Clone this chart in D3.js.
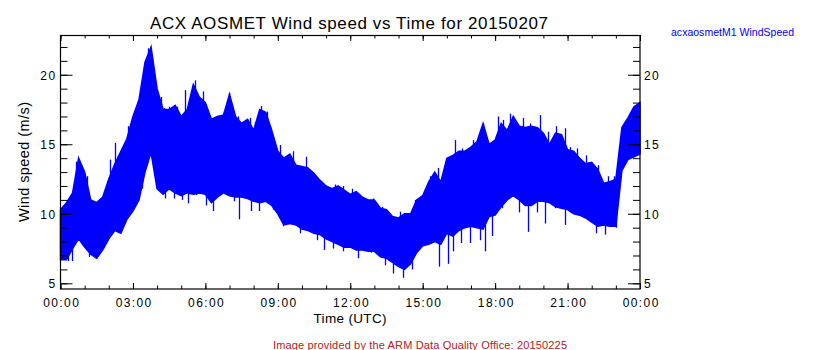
<!DOCTYPE html>
<html><head><meta charset="utf-8">
<script src="https://cdn.jsdelivr.net/npm/d3@7"></script>
<style>
body{margin:0;background:#fff}
svg{display:block}
text{font-family:"Liberation Sans",Arial,Helvetica,sans-serif}
</style>
</head><body>
<svg id="c" width="840" height="350"></svg>
<script>
// ---- data ----
const binHours = 0.25; // envelope sampled every 15 minutes, starting at 00:00
const windHi = [10.3,10.8,11.5,14.0,13.0,11.0,10.8,11.2,12.5,13.6,14.5,15.4,
  17.0,18.2,20.9,22.0,19.0,17.5,17.5,17.8,17.0,17.5,19.3,18.4,
  18.0,16.8,17.0,17.1,18.6,17.0,16.5,16.8,16.0,17.5,17.3,16.0,
  14.5,14.0,14.3,13.5,13.4,13.3,12.9,12.4,12.0,11.8,12.0,11.7,
  11.4,11.6,11.2,11.0,11.0,10.4,10.3,9.8,9.7,10.0,10.0,11.0,
  11.3,12.3,13.0,12.3,14.0,14.2,14.5,14.5,14.8,15.2,16.5,15.0,
  15.3,16.5,16.0,17.0,16.3,16.2,16.3,16.2,15.8,15.0,15.8,15.7,
  14.6,14.5,14.0,13.6,13.7,13.2,12.2,12.3,12.5,16.2,16.9,17.7,18.0];
const windLo = [6.7,6.7,7.5,8.2,7.6,7.1,6.8,7.4,8.2,8.8,8.6,9.6,
  10.2,11.0,13.0,14.4,11.8,11.4,11.8,11.5,11.3,11.5,11.4,11.5,
  11.4,10.8,11.2,11.5,11.3,11.2,11.2,11.1,10.9,10.8,10.9,10.6,
  10.0,9.2,9.3,9.2,8.9,8.8,8.6,8.5,8.2,8.0,7.8,7.6,
  7.6,7.4,7.4,7.3,7.3,6.9,6.8,6.5,6.2,6.0,6.4,7.2,
  7.7,7.8,8.0,7.8,8.6,8.4,8.8,9.0,9.1,9.0,8.9,9.8,
  9.9,10.5,11.0,11.3,11.0,10.6,10.6,10.9,10.9,10.8,10.5,10.4,
  10.3,10.0,9.9,9.7,9.4,9.1,9.2,9.1,9.1,13.1,13.9,14.1,14.3];
// isolated gusts / lulls that stick out of the envelope
const spikeHiHours  = [0.43,0.63,0.74,1.09,1.68,2.03,2.26,2.4,2.72,2.81,3.09,3.19,3.55,3.62,3.8,4.18,4.3,4.5,4.66,4.81,5.16,5.43,5.55,5.89,
  5.95,6.15,6.44,6.61,6.81,6.99,7.09,7.37,7.57,7.85,8.06,8.3,8.54,8.68,9.09,9.64,10.17,10.47,10.81,11.37,11.71,
  12.06,12.3,12.95,13.3,13.64,14.06,14.3,14.7,15.3,15.64,16.03,16.33,16.64,17.09,17.23,17.5,17.78,
  18.12,18.33,18.63,18.88,19.16,19.46,19.85,20.19,20.54,20.88,21.09,21.39,21.78,22.26,22.68,22.91];
const spikeHiValues = [11.0,13.75,13.7,12.7,10.3,13.9,15.1,14.2,14.95,16.3,16.75,18.1,20.9,21.9,21.2,18.4,17.6,17.7,17.35,17.7,18.9,18.2,19.6,18.8,
  17.9,16.75,16.75,17.1,17.1,18.7,17.8,17.0,16.3,16.9,16.6,17.75,17.35,16.3,14.95,14.5,14.1,13.0,12.3,12.1,12.0,
  11.8,11.35,11.1,10.5,10.0,10.15,9.9,11.0,12.7,13.3,13.5,15.3,14.7,15.3,15.1,16.5,14.95,
  17.0,16.75,17.2,16.6,16.9,16.5,17.1,15.9,16.3,16.15,14.8,14.7,14.2,13.5,12.7,12.7];
const spikeLoHours  = [0.1,0.3,0.47,1.16,1.43,2.48,3.39,3.6,4.33,4.68,5.02,5.3,5.61,
  6.03,6.3,7.19,7.41,7.89,8.24,8.79,9.2,9.92,10.33,10.61,10.92,11.3,11.71,
  12.33,12.86,13.43,13.78,14.19,14.54,15.68,16.05,16.26,16.6,16.95,17.37,17.57,
  17.85,18.29,18.99,19.37,19.74,20.06,20.47,20.9,21.39,21.85,22.17,22.54,22.75,23.0];
const spikeLoValues = [6.7,6.6,6.6,6.9,6.8,8.7,11.8,13.9,11.1,11.1,11.0,10.75,11.35,
  10.6,10.2,10.9,9.6,10.2,10.2,10.3,9.1,8.6,8.7,8.1,7.4,7.5,7.3,
  6.8,7.2,6.3,5.7,5.4,6.0,6.2,6.4,7.3,7.9,7.9,8.1,7.3,
  8.4,10.4,10.1,8.7,10.1,9.3,10.4,9.2,10.3,9.7,8.6,8.5,9.1,9.0];
const xTickHours  = [0,3,6,9,12,15,18,21,24];
const xTickLabels = ["00:00","03:00","06:00","09:00","12:00","15:00","18:00","21:00","00:00"];
const xMinorHours = [0,1,2,3,4,5,6,7,8,9,10,11,12,13,14,15,16,17,18,19,20,21,22,23,24];
const yTicks = [5,10,15,20];
const yMinor = [5,6,7,8,9,10,11,12,13,14,15,16,17,18,19,20,21,22];

// ---- layout ----
const L = 60.5, R = 640, T = 35, B = 289;
const svg = d3.select("#c");
const x = d3.scaleLinear().domain([0,24]).range([L,R]);
const y = d3.scaleLinear().domain([4.59,22.86]).range([B,T]);

const bins = windHi.map((h,i)=>({t:Math.min(24, i*binHours), hi:h, lo:windLo[i]}));

const g = svg.append("g");
g.append("path").datum(bins)
  .attr("d", d3.area().x(d=>x(d.t)).y0(d=>y(d.lo)).y1(d=>y(d.hi)).curve(d3.curveLinear))
  .attr("fill","#0000ff").attr("stroke","#0000ff").attr("stroke-width",1.5);

// band centre at time t (used only as the foot of each spike)
const tArr = bins.map(b=>b.t), midArr = bins.map(b=>(b.hi+b.lo)/2);
const midAt = d3.scaleLinear().domain(tArr).range(midArr);

function spikes(hours, values){
  g.append("g").selectAll("line").data(hours).join("line")
    .attr("x1",d=>Math.round(x(d))+0.5).attr("x2",d=>Math.round(x(d))+0.5)
    .attr("y1",(d,i)=>y(values[i])).attr("y2",d=>y(midAt(d)))
    .attr("stroke","#0000ff").attr("stroke-width",1.3);
}
spikes(spikeHiHours, spikeHiValues);
spikes(spikeLoHours, spikeLoValues);

// ---- axes ----
function styleAxis(sel){
  sel.select(".domain").remove();
  sel.selectAll(".tick line").attr("stroke","#000").attr("stroke-width",1);
  sel.selectAll("text").attr("font-family",'"Liberation Sans",Arial,sans-serif').attr("font-size",12).attr("fill","#000").attr("letter-spacing","1.4px");
  return sel;
}
styleAxis(svg.append("g").attr("transform",`translate(0,${B})`)
  .call(d3.axisBottom(x).tickValues(xMinorHours).tickSize(-3.5).tickFormat("")));
const xbM = styleAxis(svg.append("g").attr("transform",`translate(0,${B})`)
  .call(d3.axisBottom(x).tickValues(xTickHours).tickSize(-6).tickFormat((d,i)=>xTickLabels[i])));
xbM.selectAll("text").attr("y",17.5).attr("dy",0).attr("dx",0.7);
styleAxis(svg.append("g").attr("transform",`translate(0,${T})`)
  .call(d3.axisTop(x).tickValues(xMinorHours).tickSize(-3.5).tickFormat("")));
styleAxis(svg.append("g").attr("transform",`translate(0,${T})`)
  .call(d3.axisTop(x).tickValues(xTickHours).tickSize(-6).tickFormat("")));
styleAxis(svg.append("g").attr("transform",`translate(${L},0)`)
  .call(d3.axisLeft(y).tickValues(yMinor).tickSize(-7).tickFormat("")));
const yl = styleAxis(svg.append("g").attr("transform",`translate(${L},0)`)
  .call(d3.axisLeft(y).tickValues(yTicks).tickSize(-12).tickFormat(d3.format("d"))));
yl.selectAll("text").attr("x",-4).attr("dy","0.36em");
styleAxis(svg.append("g").attr("transform",`translate(${R},0)`)
  .call(d3.axisRight(y).tickValues(yMinor).tickSize(-7).tickFormat("")));
const yr = styleAxis(svg.append("g").attr("transform",`translate(${R},0)`)
  .call(d3.axisRight(y).tickValues(yTicks).tickSize(-12).tickFormat(d3.format("d"))));
yr.selectAll("text").attr("x",4).attr("dy","0.36em");

svg.append("rect").attr("x",L).attr("y",T+0.5).attr("width",R-L).attr("height",B-T-0.5)
  .attr("fill","none").attr("stroke","#000").attr("stroke-width",1.2);

// ---- texts ----
svg.append("text").attr("x",349).attr("y",29).attr("text-anchor","middle")
  .attr("font-size",17).attr("textLength",398).attr("lengthAdjust","spacing")
  .text("ACX AOSMET Wind speed vs Time for 20150207");
svg.append("text").attr("x",350).attr("y",323.3).attr("text-anchor","middle")
  .attr("font-size",13.5).attr("textLength",73).attr("lengthAdjust","spacing")
  .text("Time (UTC)");
svg.append("text").attr("transform","translate(29,162) rotate(-90)").attr("text-anchor","middle")
  .attr("font-size",14.5).attr("textLength",120).attr("lengthAdjust","spacing")
  .text("Wind speed (m/s)");
svg.append("text").attr("x",671).attr("y",36).attr("fill","#0000ff")
  .attr("font-size",10.5).attr("textLength",123).attr("lengthAdjust","spacing")
  .text("acxaosmetM1 WindSpeed");
svg.append("text").attr("x",273).attr("y",348.5).attr("fill","#b22222")
  .attr("font-size",11).attr("textLength",294).attr("lengthAdjust","spacing")
  .text("Image provided by the ARM Data Quality Office: 20150225");
</script>
</body></html>
